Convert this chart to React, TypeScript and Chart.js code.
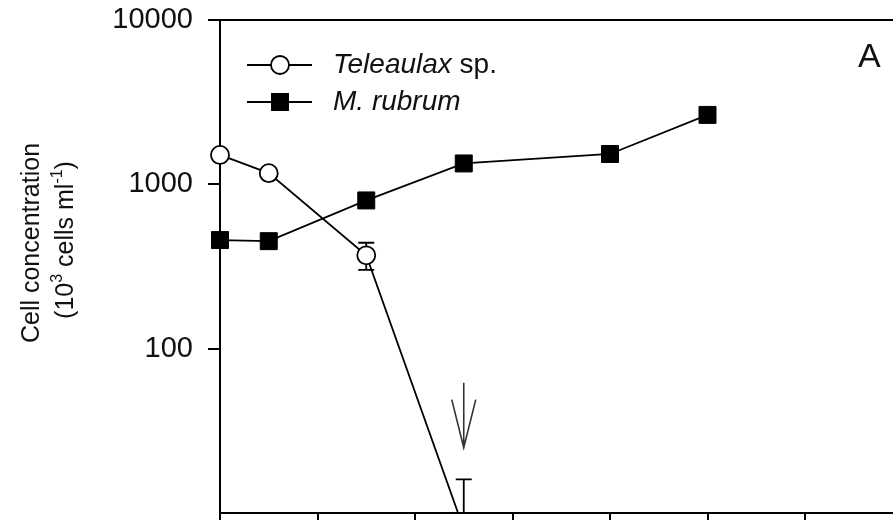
import React, { useEffect, useRef } from 'react';
import { Chart, registerables } from 'chart.js';
Chart.register(...registerables);

// ---- data ----
const teleaulaxDays = [0, 0.5, 1.5, 2.5];
const teleaulaxCells = [1510, 1170, 370, 8];
const teleaulaxErrHigh: (number | null)[] = [null, null, 441, 16];
const teleaulaxErrLow: (number | null)[] = [null, null, 302, null];
const rubrumDays = [0, 0.5, 1.5, 2.5, 4, 5];
const rubrumCells = [458, 451, 798, 1340, 1530, 2645];
const yTickValues = [100, 1000, 10000];
const xTickStep = 1;
const arrowDay = 2.5;
const arrowFromCells = 62;
const arrowToCells = 25;
const arrowWingCells = 49;
const legendLabels = ['Teleaulax', 'M. rubrum'];
const panelLabel = 'A';

const FONT = '"Liberation Sans", Arial, Helvetica, sans-serif';

export default function App() {
  const ref = useRef<HTMLCanvasElement | null>(null);
  useEffect(() => {
    if (!ref.current) return;

    const decor = {
      id: 'decor',
      beforeDatasetsDraw(chart: any) {
        const { ctx, chartArea: a, scales } = chart;
        const x = scales.x, y = scales.y;
        ctx.save();
        ctx.beginPath();
        ctx.rect(a.left - 20, a.top - 20, a.right - a.left + 40, a.bottom - a.top + 20);
        ctx.clip();
        ctx.strokeStyle = '#000';
        ctx.lineWidth = 1.8;
        teleaulaxDays.forEach((d, i) => {
          const hi = teleaulaxErrHigh[i];
          const lo = teleaulaxErrLow[i];
          if (hi == null && lo == null) return;
          const px = x.getPixelForValue(d);
          const pv = y.getPixelForValue(teleaulaxCells[i]);
          const ph = hi != null ? y.getPixelForValue(hi) : pv;
          const pl = lo != null ? y.getPixelForValue(lo) : pv;
          ctx.beginPath();
          ctx.moveTo(px, ph);
          ctx.lineTo(px, pl);
          if (hi != null) { ctx.moveTo(px - 8, ph); ctx.lineTo(px + 8, ph); }
          if (lo != null) { ctx.moveTo(px - 8, pl); ctx.lineTo(px + 8, pl); }
          ctx.stroke();
        });
        ctx.restore();
      },
      afterDraw(chart: any) {
        const { ctx, chartArea: a, scales } = chart;
        const x = scales.x, y = scales.y;
        ctx.save();
        // top border
        ctx.strokeStyle = '#000';
        ctx.lineWidth = 2;
        ctx.beginPath();
        ctx.moveTo(a.left, a.top);
        ctx.lineTo(a.right, a.top);
        ctx.stroke();

        // arrow
        const ax = x.getPixelForValue(arrowDay);
        const ay0 = y.getPixelForValue(arrowFromCells);
        const ay1 = y.getPixelForValue(arrowToCells);
        const aw = y.getPixelForValue(arrowWingCells);
        ctx.strokeStyle = '#333';
        ctx.lineWidth = 1.6;
        ctx.beginPath();
        ctx.moveTo(ax, ay0);
        ctx.lineTo(ax, ay1);
        ctx.moveTo(ax - 12, aw);
        ctx.lineTo(ax, ay1);
        ctx.lineTo(ax + 12, aw);
        ctx.stroke();

        // legend
        const lx0 = 247, lx1 = 312, lcx = 280, tx = 333;
        const rows = [65, 102];
        ctx.strokeStyle = '#000';
        ctx.lineWidth = 1.8;
        rows.forEach((ry) => {
          ctx.beginPath();
          ctx.moveTo(lx0, ry);
          ctx.lineTo(lx1, ry);
          ctx.stroke();
        });
        ctx.fillStyle = '#fff';
        ctx.beginPath();
        ctx.arc(lcx, rows[0], 9, 0, Math.PI * 2);
        ctx.fill();
        ctx.stroke();
        ctx.fillStyle = '#000';
        ctx.fillRect(lcx - 9, rows[1] - 9, 18, 18);

        ctx.textBaseline = 'middle';
        ctx.textAlign = 'left';
        ctx.fillStyle = '#111';
        ctx.font = `italic 28px ${FONT}`;
        ctx.fillText(legendLabels[0], tx, rows[0]);
        const w0 = ctx.measureText(legendLabels[0]).width;
        ctx.font = `28px ${FONT}`;
        ctx.fillText(' sp.', tx + w0, rows[0]);
        ctx.font = `italic 28px ${FONT}`;
        ctx.fillText(legendLabels[1], tx, rows[1]);

        // panel letter
        ctx.font = `34px ${FONT}`;
        ctx.fillText(panelLabel, 858, 58);

        // y title
        const drawRot = (cx: number, cy: number, parts: { t: string; sup?: boolean }[]) => {
          ctx.save();
          ctx.translate(cx, cy);
          ctx.rotate(-Math.PI / 2);
          const big = `25px ${FONT}`;
          const small = `16px ${FONT}`;
          let total = 0;
          parts.forEach((p) => {
            ctx.font = p.sup ? small : big;
            total += ctx.measureText(p.t).width;
          });
          let px = -total / 2;
          ctx.textAlign = 'left';
          ctx.textBaseline = 'middle';
          parts.forEach((p) => {
            ctx.font = p.sup ? small : big;
            ctx.fillText(p.t, px, p.sup ? -8 : 0);
            px += ctx.measureText(p.t).width;
          });
          ctx.restore();
        };
        ctx.fillStyle = '#111';
        drawRot(32, 243, [{ t: 'Cell concentration' }]);
        drawRot(66, 240, [
          { t: '(10' },
          { t: '3', sup: true },
          { t: ' cells ml' },
          { t: '-1', sup: true },
          { t: ')' },
        ]);
        ctx.restore();
      },
    };

    const chart = new Chart(ref.current, {
      type: 'line',
      data: {
        datasets: [
          {
            label: 'Teleaulax sp.',
            data: teleaulaxDays.map((d, i) => ({ x: d, y: teleaulaxCells[i] })),
            borderColor: '#000',
            borderWidth: 1.8,
            pointStyle: 'circle',
            pointRadius: 9,
            pointBorderWidth: 1.8,
            pointBackgroundColor: '#fff',
            pointBorderColor: '#000',
            clip: { left: false, top: false, right: false, bottom: 0 } as any,
            order: 1,
          },
          {
            label: 'M. rubrum',
            data: rubrumDays.map((d, i) => ({ x: d, y: rubrumCells[i] })),
            borderColor: '#000',
            borderWidth: 1.8,
            pointStyle: 'rect',
            pointRadius: 12,
            pointBorderWidth: 1,
            pointBackgroundColor: '#000',
            pointBorderColor: '#000',
            clip: { left: false, top: false, right: false, bottom: 0 } as any,
            order: 2,
          },
        ],
      },
      options: {
        animation: false,
        responsive: false,
        devicePixelRatio: 1,
        layout: { autoPadding: false, padding: { top: 20, left: 0, right: 0, bottom: 0 } },
        plugins: { legend: { display: false }, tooltip: { enabled: false } },
        scales: {
          x: {
            type: 'linear',
            min: 0,
            max: 8,
            afterFit: (s: any) => { s.height = 47; s.paddingLeft = 0; s.paddingRight = 0; },
            ticks: { stepSize: xTickStep, display: false },
            grid: {
              display: true,
              drawOnChartArea: false,
              drawTicks: true,
              tickLength: 10,
              color: '#000',
              lineWidth: 2,
            },
            border: { display: true, color: '#000', width: 2 },
          },
          y: {
            type: 'logarithmic',
            min: 10,
            max: 10000,
            afterFit: (s: any) => { s.width = 220; s.paddingTop = 0; s.paddingBottom = 0; },
            afterBuildTicks: (s: any) => { s.ticks = yTickValues.map((v) => ({ value: v, major: true })); },
            ticks: {
              callback: (v: any) => String(v),
              font: { family: FONT, size: 29 },
              color: '#111',
              padding: 15,
            },
            grid: {
              display: true,
              drawOnChartArea: false,
              drawTicks: true,
              tickLength: 12,
              color: '#000',
              lineWidth: 2,
            },
            border: { display: true, color: '#000', width: 2 },
          },
        },
      },
      plugins: [decor],
    } as any);
    console.log(JSON.stringify(chart.chartArea));
    return () => chart.destroy();
  }, []);

  return (
    <div style={{ position: 'fixed', left: 0, top: 0, width: 893, height: 520, overflow: 'hidden', background: '#fff' }}>
      <canvas ref={ref} width={1000} height={560} style={{ display: 'block' }} />
    </div>
  );
}
